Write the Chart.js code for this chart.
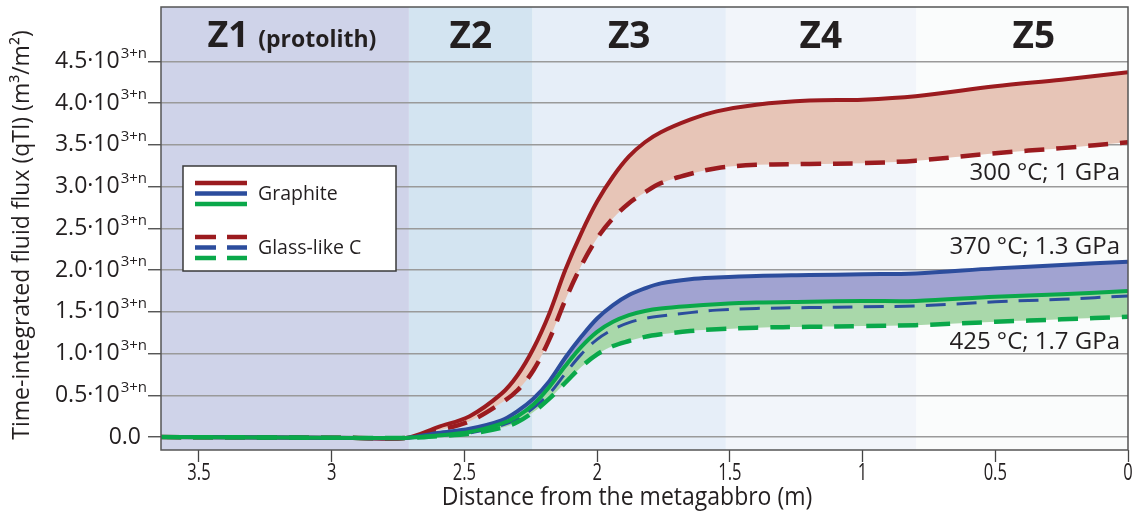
<!DOCTYPE html>
<html>
<head>
<meta charset="utf-8">
<script src="https://cdn.jsdelivr.net/npm/chart.js@4"></script>
<style>
  html, body { margin: 0; padding: 0; background: #fff; }
  #wrap { width: 1134px; height: 517px; }
</style>
</head>
<body>
<div id="wrap"><canvas id="c" width="1134" height="517"></canvas></div>
<script>
// distance from the metagabbro (m)
const dist = [3.643, 3.2, 2.9, 2.72, 2.6, 2.48, 2.36, 2.3, 2.24, 2.18, 2.12, 2.06, 2.0, 1.94, 1.88, 1.82, 1.76, 1.65, 1.55, 1.4, 1.2, 1.0, 0.8, 0.5, 0.25, 0];

// qTI in units of 10^(3+n)
const red300   = [0, -0.005, -0.01, -0.01, 0.12, 0.25, 0.52, 0.74, 1.06, 1.48, 2.0, 2.44, 2.82, 3.12, 3.36, 3.53, 3.65, 3.8, 3.9, 3.98, 4.03, 4.04, 4.08, 4.2, 4.28, 4.37];
const red300g  = [0, -0.005, -0.01, -0.01, 0.08, 0.19, 0.41, 0.56, 0.8, 1.17, 1.64, 2.05, 2.38, 2.62, 2.8, 2.93, 3.04, 3.15, 3.22, 3.26, 3.27, 3.28, 3.31, 3.4, 3.46, 3.53];
const blue370  = [0, -0.005, -0.01, -0.01, 0.05, 0.1, 0.2, 0.31, 0.46, 0.67, 0.95, 1.2, 1.42, 1.58, 1.7, 1.78, 1.84, 1.89, 1.91, 1.93, 1.94, 1.95, 1.96, 2.02, 2.06, 2.1];
const blue370g = [0, -0.005, -0.01, -0.01, 0.02, 0.05, 0.14, 0.22, 0.35, 0.52, 0.76, 0.99, 1.17, 1.29, 1.37, 1.42, 1.45, 1.49, 1.52, 1.54, 1.55, 1.56, 1.57, 1.62, 1.65, 1.69];
const green425 = [0, -0.005, -0.01, -0.01, 0.02, 0.06, 0.16, 0.25, 0.39, 0.6, 0.85, 1.08, 1.26, 1.38, 1.46, 1.51, 1.54, 1.57, 1.59, 1.61, 1.62, 1.63, 1.63, 1.68, 1.71, 1.75];
const green425g= [0, -0.005, -0.01, -0.01, 0.01, 0.04, 0.11, 0.18, 0.3, 0.46, 0.65, 0.84, 0.99, 1.09, 1.15, 1.2, 1.23, 1.27, 1.29, 1.31, 1.32, 1.33, 1.34, 1.38, 1.41, 1.44];

const yTicks = [0, 0.5, 1.0, 1.5, 2.0, 2.5, 3.0, 3.5, 4.0, 4.5];
const xTicks = [3.5, 3, 2.5, 2, 1.5, 1, 0.5, 0];

// zones
const zoneEdges  = [3.643, 2.709, 2.243, 1.515, 0.798, 0];
const zoneColors = ["#cfd3e9", "#d3e4f1", "#e6eef8", "#f2f5fa", "#fafcfc"];
const zoneNames  = ["Z1", "Z2", "Z3", "Z4", "Z5"];
const zoneLabelX = [3.15, 2.476, 1.879, 1.157, 0.355];

// P-T conditions
const ptLabels = ["300 °C; 1 GPa", "370 °C; 1.3 GPa", "425 °C; 1.7 GPa"];
const ptLabelY = [3.16, 2.27, 1.14];

const xTitle = "Distance from the metagabbro (m)";
const yTitle = "Time-integrated fluid flux (qTI) (m³/m²)";

const RED = "#9b1b1f", BLUE = "#2c4d9d", GREEN = "#0aa84a";
const INK = "#231f20";
const FONT = "'Open Sans', sans-serif";

const pts = arr => dist.map((d, i) => ({ x: d, y: arr[i] }));

const line = (label, arr, color, dashed, fill, fillColor) => ({
  label,
  data: pts(arr),
  borderColor: color,
  borderWidth: dashed ? 4.5 : 4,
  borderDash: dashed ? [20, 12] : [],
  backgroundColor: fillColor || "transparent",
  fill: fill === undefined ? false : fill,
  tension: 0.35,
  pointRadius: 0,
});

// zone backgrounds (under grid)
const zonesBg = {
  id: "zonesBg",
  beforeDraw(chart) {
    const { ctx, chartArea: a, scales: { x } } = chart;
    ctx.save();
    for (let i = 0; i < zoneColors.length; i++) {
      const x0 = x.getPixelForValue(zoneEdges[i]);
      const x1 = x.getPixelForValue(zoneEdges[i + 1]);
      ctx.fillStyle = zoneColors[i];
      ctx.fillRect(x0, a.top, x1 - x0, a.bottom - a.top);
    }
    ctx.restore();
  },
};

// condensed text helper
function narrowText(ctx, text, px, py, sx) {
  ctx.save();
  ctx.translate(px, py);
  ctx.scale(sx, 1);
  ctx.fillText(text, 0, 0);
  ctx.restore();
}

// labels, legend, frame
const overlay = {
  id: "overlay",
  afterDraw(chart) {
    const { ctx, chartArea: a, scales: { x, y } } = chart;
    ctx.save();
    ctx.fillStyle = INK;
    ctx.textBaseline = "middle";

    // y tick labels with superscript
    yTicks.forEach(v => {
      const py = y.getPixelForValue(v);
      ctx.textAlign = "right";
      if (v === 0) {
        ctx.font = "23px " + FONT;
        ctx.fillText("0.0", 141, py);
        return;
      }
      ctx.font = "15px " + FONT;
      ctx.fillText("3+n", 147, py - 8);
      const w = ctx.measureText("3+n").width;
      ctx.font = "23px " + FONT;
      ctx.fillText(v.toFixed(1) + "·10", 147 - w - 1, py);
    });

    // y title
    ctx.save();
    ctx.translate(22, 235);
    ctx.rotate(-Math.PI / 2);
    ctx.textAlign = "center";
    ctx.font = "23px " + FONT;
    ctx.fillText(yTitle, 0, 0);
    ctx.restore();

    // x tick labels + title (condensed)
    ctx.textAlign = "center";
    ctx.font = "23px " + FONT;
    xTicks.forEach(v => narrowText(ctx, String(v), x.getPixelForValue(v), 473, 0.72));
    ctx.font = "25px " + FONT;
    narrowText(ctx, xTitle, 627, 498, 0.92);

    // zone titles
    const zy = y.getPixelForValue(4.79);
    zoneNames.forEach((n, i) => {
      const px = x.getPixelForValue(zoneLabelX[i]);
      if (i === 0) {
        ctx.font = "bold 36px " + FONT;
        const w1 = ctx.measureText("Z1 ").width;
        ctx.font = "bold 23px " + FONT;
        const w2 = ctx.measureText("(protolith)").width;
        const left = px - (w1 + w2) / 2;
        ctx.textAlign = "left";
        ctx.font = "bold 36px " + FONT;
        ctx.fillText("Z1", left, zy);
        ctx.font = "bold 23px " + FONT;
        ctx.fillText("(protolith)", left + w1, zy + 3);
        ctx.textAlign = "center";
      } else {
        ctx.font = "bold 37px " + FONT;
        ctx.fillText(n, px, zy);
      }
    });

    // P-T labels
    ctx.font = "24px " + FONT;
    ctx.textAlign = "right";
    ptLabels.forEach((t, i) => {
      ctx.fillText(t, a.right - 8, y.getPixelForValue(ptLabelY[i]));
    });

    // legend
    const lx = 183, ly = 166, lw = 213, lh = 105;
    ctx.fillStyle = "#fff";
    ctx.fillRect(lx, ly, lw, lh);
    ctx.strokeStyle = "#3a3a3a";
    ctx.lineWidth = 1.5;
    ctx.strokeRect(lx, ly, lw, lh);
    const cols = [RED, BLUE, GREEN];
    ctx.lineWidth = 4.5;
    cols.forEach((c, i) => {
      ctx.strokeStyle = c;
      ctx.beginPath();
      ctx.moveTo(195, 183 + i * 10.5); ctx.lineTo(247, 183 + i * 10.5);
      ctx.stroke();
      ctx.beginPath();
      ctx.moveTo(195, 237 + i * 10.5); ctx.lineTo(216, 237 + i * 10.5);
      ctx.moveTo(227, 237 + i * 10.5); ctx.lineTo(247, 237 + i * 10.5);
      ctx.stroke();
    });
    ctx.fillStyle = INK;
    ctx.font = "19.5px " + FONT;
    ctx.textAlign = "left";
    ctx.fillText("Graphite", 258, 194);
    ctx.fillText("Glass-like C", 258, 248);

    // frame
    ctx.strokeStyle = "#555";
    ctx.lineWidth = 1.5;
    ctx.strokeRect(a.left, a.top, a.right - a.left, a.bottom - a.top);
    ctx.restore();
  },
};

new Chart(document.getElementById("c"), {
  type: "line",
  data: {
    datasets: [
      line("Graphite 425 °C", green425, GREEN, false, 1, "#a9d8aa"),
      line("Glass-like C 425 °C", green425g, GREEN, true),
      line("Graphite 370 °C", blue370, BLUE, false, 3, "#a1a3d1"),
      Object.assign(line("Glass-like C 370 °C", blue370g, BLUE, true), { borderWidth: 3, borderDash: [20, 11] }),
      line("Graphite 300 °C", red300, RED, false, 5, "#e7c5b7"),
      line("Glass-like C 300 °C", red300g, RED, true),
    ],
  },
  options: {
    responsive: false,
    animation: false,
    events: [],
    layout: { padding: { top: 7, right: 6, left: 0, bottom: 0 } },
    plugins: {
      legend: { display: false },
      tooltip: { enabled: false },
      filler: { drawTime: "beforeDatasetsDraw" },
    },
    scales: {
      x: {
        type: "linear",
        reverse: true,
        min: 0,
        max: 3.643,
        afterFit: s => { s.height = 67; },
        afterBuildTicks: s => { s.ticks = xTicks.map(v => ({ value: v })); },
        ticks: { display: false },
        grid: { drawOnChartArea: false, tickLength: 12, tickColor: "#444", tickWidth: 1.3 },
        border: { display: false },
      },
      y: {
        min: -0.155,
        max: 5.15,
        afterFit: s => { s.width = 161; },
        afterBuildTicks: s => { s.ticks = yTicks.map(v => ({ value: v })); },
        ticks: { display: false },
        grid: { color: "#9a9a9a", lineWidth: 1.5, tickLength: 13, tickColor: "#444", tickWidth: 1.3 },
        border: { display: false },
      },
    },
  },
  plugins: [zonesBg, overlay],
});
</script>
</body>
</html>
